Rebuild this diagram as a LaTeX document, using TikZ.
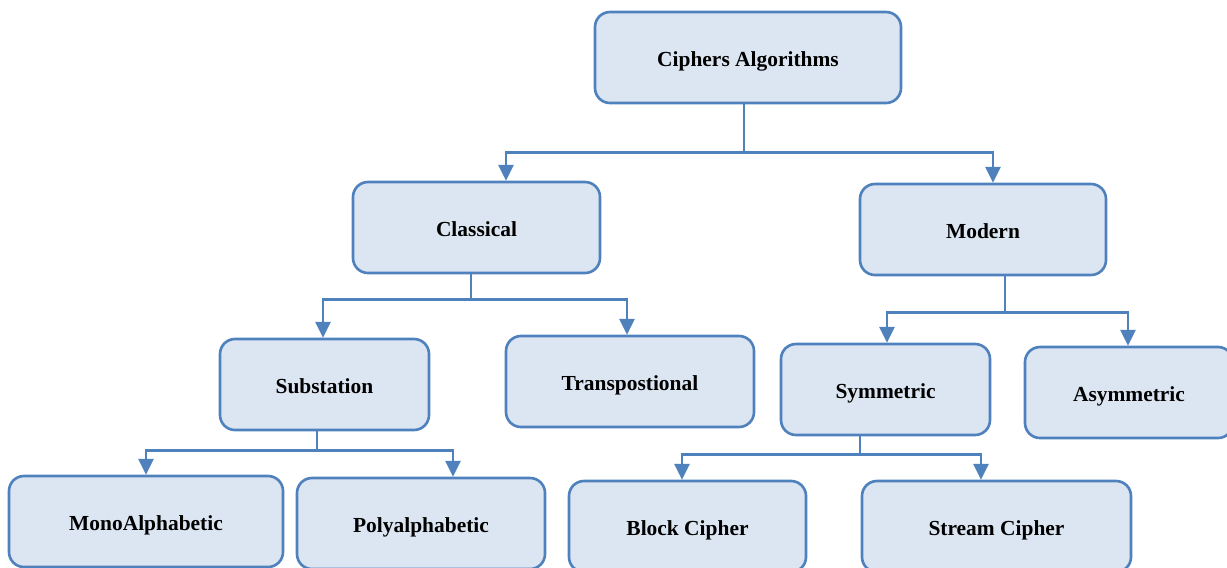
\documentclass[tikz,border=0pt]{standalone}
\usepackage{fontspec}
\setmainfont{Liberation Serif}
\usepackage{tikz}
\usetikzlibrary{arrows.meta}

\definecolor{boxline}{HTML}{4F81BD}
\definecolor{boxfill}{HTML}{DCE6F2}
\tikzset{
    algobox/.style={draw=boxline,fill=boxfill,line width=1.5pt,rounded corners=0.3cm,
        minimum height=1.82cm,inner sep=0pt,text height=0.34cm,text depth=0pt,
        font=\fontsize{12.2}{14}\selectfont\bfseries},
}

\begin{document}
\begin{tikzpicture}[-{Triangle[length=9pt,width=8.5pt]},draw=boxline,line width=1.5pt]
        \useasboundingbox (0,0) rectangle (24.54,-11.34);
        \node[algobox,minimum width=6.12cm] (Ciphers_Algorithms) at (14.96,-1.15) {Ciphers Algorithms};
        \node[algobox,minimum width=4.94cm] (Classical) at (9.53,-4.55) {Classical};
        \node[algobox,minimum width=4.92cm] (Modern) at (19.66,-4.59) {Modern};
        \node[algobox,minimum width=4.18cm] (Substation) at (6.49,-7.69) {Substation};
        \node[algobox,minimum width=4.96cm] (Transpostional) at (12.6,-7.63) {Transpostional};
        \node[algobox,minimum width=4.18cm] (Symmetric) at (17.71,-7.79) {Symmetric};
        \node[algobox,minimum width=4.16cm] (Asymmetric) at (22.58,-7.85) {Asymmetric};
        \node[algobox,minimum width=5.48cm] (MonoAlphabetic) at (2.92,-10.43) {MonoAlphabetic};
        \node[algobox,minimum width=4.96cm] (Polyalphabetic) at (8.42,-10.47) {Polyalphabetic};
        \node[algobox,minimum width=4.74cm] (Block_Cipher) at (13.75,-10.53) {Block Cipher};
        \node[algobox,minimum width=5.38cm] (Stream_Cipher) at (19.93,-10.53) {Stream Cipher};
        \draw ([xshift=-0.08cm]Ciphers_Algorithms.south) -- ++(0,-0.96) -| ([xshift=0.59cm]Classical.north);
        \draw ([xshift=-0.08cm]Ciphers_Algorithms.south) -- ++(0,-0.96) -| ([xshift=0.2cm]Modern.north);
        \draw ([xshift=-0.11cm]Classical.south) -- ++(0,-0.5) -| ([xshift=-0.03cm]Substation.north);
        \draw ([xshift=-0.11cm]Classical.south) -- ++(0,-0.5) -| ([xshift=-0.06cm]Transpostional.north);
        \draw ([xshift=0.44cm]Modern.south) -- ++(0,-0.72) -| ([xshift=0.03cm]Symmetric.north);
        \draw ([xshift=0.44cm]Modern.south) -- ++(0,-0.72) -| ([xshift=-0.02cm]Asymmetric.north);
        \draw ([xshift=-0.15cm]Substation.south) -- ++(0,-0.38) -| (MonoAlphabetic.north);
        \draw ([xshift=-0.15cm]Substation.south) -- ++(0,-0.38) -| ([xshift=0.64cm]Polyalphabetic.north);
        \draw ([xshift=-0.51cm]Symmetric.south) -- ++(0,-0.36) -| ([xshift=-0.11cm]Block_Cipher.north);
        \draw ([xshift=-0.51cm]Symmetric.south) -- ++(0,-0.36) -| ([xshift=-0.31cm]Stream_Cipher.north);
    \end{tikzpicture}
\end{document}
